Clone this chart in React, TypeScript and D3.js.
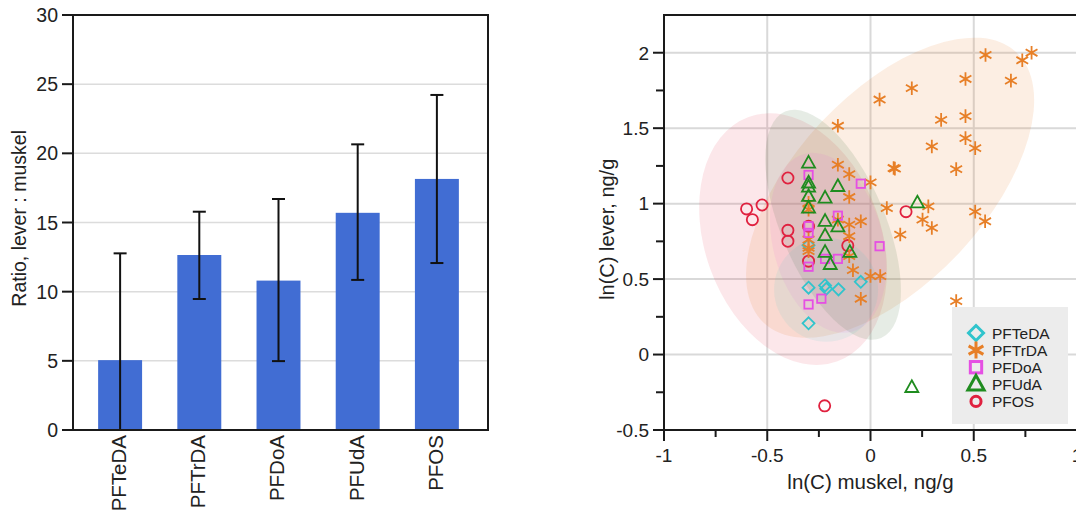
import React from "react";
import * as d3 from "d3";

// ---------- Bar chart data ----------
const categories = ["PFTeDA", "PFTrDA", "PFDoA", "PFUdA", "PFOS"];
const ratioMean = [5.05, 12.65, 10.8, 15.7, 18.15];
const ratioLow = [0, 9.47, 4.98, 10.85, 12.07];
const ratioHigh = [12.77, 15.78, 16.7, 20.65, 24.22];
const barTicks = [0, 5, 10, 15, 20, 25, 30];

// ---------- Scatter data (ln muskel, ln lever) ----------
const pfteda: [number, number][] = [
  [-0.3, 0.443], [-0.22, 0.458], [-0.214, 0.436], [-0.155, 0.432], [-0.047, 0.482],
  [-0.3, 0.207], [-0.3, 0.725],
];
const pftrda: [number, number][] = [
  [0.557, 1.985], [0.78, 2.0], [0.735, 1.95], [0.68, 1.815], [0.46, 1.826], [0.2, 1.765],
  [0.044, 1.69], [-0.158, 1.516], [0.342, 1.555], [0.46, 1.58], [0.46, 1.434], [0.507, 1.368],
  [0.297, 1.379], [0.112, 1.236], [0.118, 1.232], [0.415, 1.229], [-0.158, 1.258],
  [-0.103, 1.196], [0.0, 1.141], [-0.103, 1.044], [0.079, 0.971], [0.28, 0.982],
  [0.252, 0.894], [0.297, 0.839], [0.507, 0.947], [0.555, 0.883], [0.144, 0.795],
  [-0.047, 0.883], [-0.103, 0.861], [-0.158, 0.894], [-0.103, 0.784], [-0.3, 1.005],
  [-0.3, 0.96], [-0.3, 0.762], [-0.3, 0.707], [-0.3, 0.685], [-0.103, 0.652],
  [-0.085, 0.559], [0.0, 0.52], [0.047, 0.52], [-0.047, 0.37], [0.415, 0.354],
];
const pfdoa: [number, number][] = [
  [-0.3, 1.19], [-0.047, 1.132], [-0.158, 0.92], [-0.3, 0.85], [-0.3, 0.806], [0.044, 0.718],
  [-0.22, 0.634], [-0.158, 0.634], [-0.3, 0.582], [-0.3, 0.332], [-0.238, 0.37],
];
const pfuda: [number, number][] = [
  [-0.3, 1.269], [-0.3, 1.137], [-0.3, 1.11], [-0.3, 1.048], [-0.3, 0.971], [-0.158, 1.114],
  [-0.22, 1.037], [-0.22, 0.883], [-0.158, 0.846], [-0.22, 0.788], [-0.22, 0.678],
  [-0.195, 0.597], [-0.1, 0.678], [0.227, 1.005], [0.2, -0.218],
];
const pfos: [number, number][] = [
  [-0.4, 1.17], [-0.6, 0.965], [-0.525, 0.991], [-0.572, 0.894], [-0.4, 0.823], [-0.4, 0.751],
  [-0.3, 0.85], [-0.3, 0.619], [-0.11, 0.722], [0.172, 0.947], [-0.222, -0.34],
];

const seriesNames = ["PFTeDA", "PFTrDA", "PFDoA", "PFUdA", "PFOS"];
const seriesColors = ["#30c4cc", "#e77f27", "#e54fe3", "#1f8c1f", "#e0213f"];
const seriesShapes = ["diamond", "asterisk", "square", "triangle", "circle"];

// confidence ellipses: center (data units), semi-axes (px), rotation (deg)
const ellipseSeries = ["PFOS", "PFTrDA", "PFUdA", "PFDoA", "PFTeDA"];
const ellipseFill = ["#e0213f", "#e77f27", "#4f7a45", "#e54fe3", "#30c4cc"];
const ellipseCx = [-0.375, 0.095, -0.181, -0.205, -0.215];
const ellipseCy = [0.765, 1.106, 0.86, 0.74, 0.43];
const ellipseRx = [88, 185, 52, 55, 52];
const ellipseRy = [130, 95, 123, 92, 52];
const ellipseRot = [-20, -47, -23, -15, 0];
const ellipseOpacity = [0.11, 0.13, 0.14, 0.09, 0.09];

const scatterXTicks = [-1, -0.5, 0, 0.5, 1];
const scatterXMinor = [-0.75, -0.25, 0.25, 0.75];
const scatterYTicks = [-0.5, 0, 0.5, 1, 1.5, 2];
const scatterYMinor = [-0.25, 0.25, 0.75, 1.25, 1.75];

const FONT = "'Liberation Sans', Arial, Helvetica, sans-serif";

function Marker({ shape, x, y, color, s = 1, sw = 1.8 }: any) {
  if (shape === "diamond") {
    const r = 6 * s;
    return <path d={`M${x},${y - r}L${x + r},${y}L${x},${y + r}L${x - r},${y}Z`} fill="none" stroke={color} strokeWidth={sw} />;
  }
  if (shape === "square") {
    const r = 4.2 * s;
    return <rect x={x - r} y={y - r} width={2 * r} height={2 * r} fill="none" stroke={color} strokeWidth={sw} />;
  }
  if (shape === "triangle") {
    const r = 6.5 * s;
    return <path d={`M${x},${y - r * 1.1}L${x + r},${y + r * 0.7}L${x - r},${y + r * 0.7}Z`} fill="none" stroke={color} strokeWidth={sw} />;
  }
  if (shape === "circle") {
    return <circle cx={x} cy={y} r={5.6 * s} fill="none" stroke={color} strokeWidth={sw} />;
  }
  const r = 6.8 * s;
  const c = Math.cos(Math.PI / 6) * r;
  const h = Math.sin(Math.PI / 6) * r;
  return (
    <path
      d={`M${x},${y - r}L${x},${y + r}M${x - c},${y - h}L${x + c},${y + h}M${x - c},${y + h}L${x + c},${y - h}`}
      stroke={color}
      strokeWidth={sw}
      fill="none"
    />
  );
}

export default function App() {
  // ---- bar chart scales ----
  const by = d3.scaleLinear().domain([0, 30]).range([430, 15]);
  const bx = d3.scaleBand().domain(categories).range([72, 485]).paddingInner(0.445).paddingOuter(0.33);
  const bw = bx.bandwidth();

  // ---- scatter scales ----
  const sx = d3.scaleLinear().domain([-1, 1]).range([664, 1077]);
  const sy = d3.scaleLinear().domain([-0.5, 2.25]).range([430, 15]);

  const seriesData = [pfteda, pftrda, pfdoa, pfuda, pfos];
  const drawOrder = [0, 4, 1, 2, 3];

  return (
    <svg width={1076} height={514} style={{ position: "absolute", left: 0, top: 0, background: "#fff" }} fontFamily={FONT}>
      {/* ===== Bar chart ===== */}
      {barTicks.filter((t) => t > 0 && t < 30).map((t) => (
        <line key={"bg" + t} x1={73} x2={488} y1={by(t)} y2={by(t)} stroke="#dcdcdc" strokeWidth={1.5} />
      ))}
      {categories.map((c, i) => (
        <rect key={"bar" + c} x={bx(c)!} y={by(ratioMean[i])} width={bw} height={by(0) - by(ratioMean[i])} fill="#416dd3" />
      ))}
      {categories.map((c, i) => {
        const cx = bx(c)! + bw / 2;
        return (
          <g key={"err" + c} stroke="#111" strokeWidth={2}>
            <line x1={cx} x2={cx} y1={by(ratioLow[i])} y2={by(ratioHigh[i])} />
            <line x1={cx - 6.5} x2={cx + 6.5} y1={by(ratioHigh[i])} y2={by(ratioHigh[i])} />
            {ratioLow[i] > 0 && <line x1={cx - 6.5} x2={cx + 6.5} y1={by(ratioLow[i])} y2={by(ratioLow[i])} />}
          </g>
        );
      })}
      <rect x={73} y={15} width={415} height={415} fill="none" stroke="#1a1a1a" strokeWidth={2} />
      {barTicks.map((t) => (
        <g key={"bt" + t}>
          <line x1={62} x2={73} y1={by(t)} y2={by(t)} stroke="#1a1a1a" strokeWidth={2} />
          <text x={58} y={by(t)} dy="0.36em" textAnchor="end" fontSize={19.5} fill="#222">{t}</text>
        </g>
      ))}
      <text transform={`translate(26,${by(15.3)}) rotate(-90)`} textAnchor="middle" fontSize={19.5} fill="#222">
        Ratio, lever : muskel
      </text>
      {categories.map((c) => (
        <text
          key={"bl" + c}
          transform={`translate(${bx(c)! + bw / 2 - 1.5},435) rotate(-90)`}
          textAnchor="end"
          dy="0.36em"
          fontSize={20.5}
          fill="#222"
        >
          {c}
        </text>
      ))}

      {/* ===== Scatter plot ===== */}
      {scatterXTicks.filter((t) => t > -1 && t < 1).map((t) => (
        <line key={"sgx" + t} x1={sx(t)} x2={sx(t)} y1={15} y2={430} stroke="#d9d9d9" strokeWidth={2} />
      ))}
      {scatterYTicks.filter((t) => t > -0.5).map((t) => (
        <line key={"sgy" + t} x1={664} x2={1077} y1={sy(t)} y2={sy(t)} stroke="#d9d9d9" strokeWidth={2} />
      ))}
      {ellipseSeries.map((name, i) => {
        const cx = sx(ellipseCx[i]);
        const cy = sy(ellipseCy[i]);
        return (
          <ellipse
            key={"el" + name}
            cx={0}
            cy={0}
            rx={ellipseRx[i]}
            ry={ellipseRy[i]}
            transform={`translate(${cx},${cy}) rotate(${ellipseRot[i]})`}
            fill={ellipseFill[i]}
            fillOpacity={ellipseOpacity[i]}
          />
        );
      })}
      {drawOrder.map((si) => (
        <g key={"s" + si}>
          {seriesData[si].map((p, j) => (
            <Marker key={j} shape={seriesShapes[si]} x={sx(p[0])} y={sy(p[1])} color={seriesColors[si]} />
          ))}
        </g>
      ))}
      {/* axes */}
      <line x1={664} x2={664} y1={15} y2={431} stroke="#1a1a1a" strokeWidth={2} />
      <line x1={663} x2={1077} y1={430} y2={430} stroke="#1a1a1a" strokeWidth={2} />
      <line x1={663} x2={1077} y1={15} y2={15} stroke="#1a1a1a" strokeWidth={2} />
      {scatterYTicks.map((t) => (
        <g key={"syt" + t}>
          <line x1={653} x2={664} y1={sy(t)} y2={sy(t)} stroke="#1a1a1a" strokeWidth={2} />
          <text x={649} y={sy(t)} dy="0.36em" textAnchor="end" fontSize={19} fill="#222">{t}</text>
        </g>
      ))}
      {scatterYMinor.map((t) => (
        <line key={"sym" + t} x1={656} x2={664} y1={sy(t)} y2={sy(t)} stroke="#1a1a1a" strokeWidth={2} />
      ))}
      {scatterXTicks.map((t) => (
        <g key={"sxt" + t}>
          <line x1={sx(t)} x2={sx(t)} y1={430} y2={441} stroke="#1a1a1a" strokeWidth={2} />
          <text x={sx(t)} y={462} textAnchor="middle" fontSize={19} fill="#222">{t}</text>
        </g>
      ))}
      {scatterXMinor.map((t) => (
        <line key={"sxm" + t} x1={sx(t)} x2={sx(t)} y1={430} y2={437} stroke="#1a1a1a" strokeWidth={2} />
      ))}
      <text x={sx(0)} y={489} textAnchor="middle" fontSize={20.5} fill="#222">ln(C) muskel, ng/g</text>
      <text transform={`translate(614,${sy(0.83)}) rotate(-90)`} textAnchor="middle" fontSize={20} fill="#222">
        ln(C) lever, ng/g
      </text>

      {/* legend */}
      <rect x={952} y={307} width={116} height={117} fill="#ececec" />
      {seriesNames.map((n, i) => (
        <g key={"lg" + n}>
          <Marker
            shape={seriesShapes[i]}
            x={976}
            y={333 + i * 17.1}
            color={seriesColors[i]}
            s={seriesShapes[i] === "square" ? 1.35 : seriesShapes[i] === "circle" ? 0.9 : 1.25}
            sw={3}
          />
          <text x={992} y={333 + i * 17.1} dy="0.36em" fontSize={15.5} fill="#222">{n}</text>
        </g>
      ))}
    </svg>
  );
}
